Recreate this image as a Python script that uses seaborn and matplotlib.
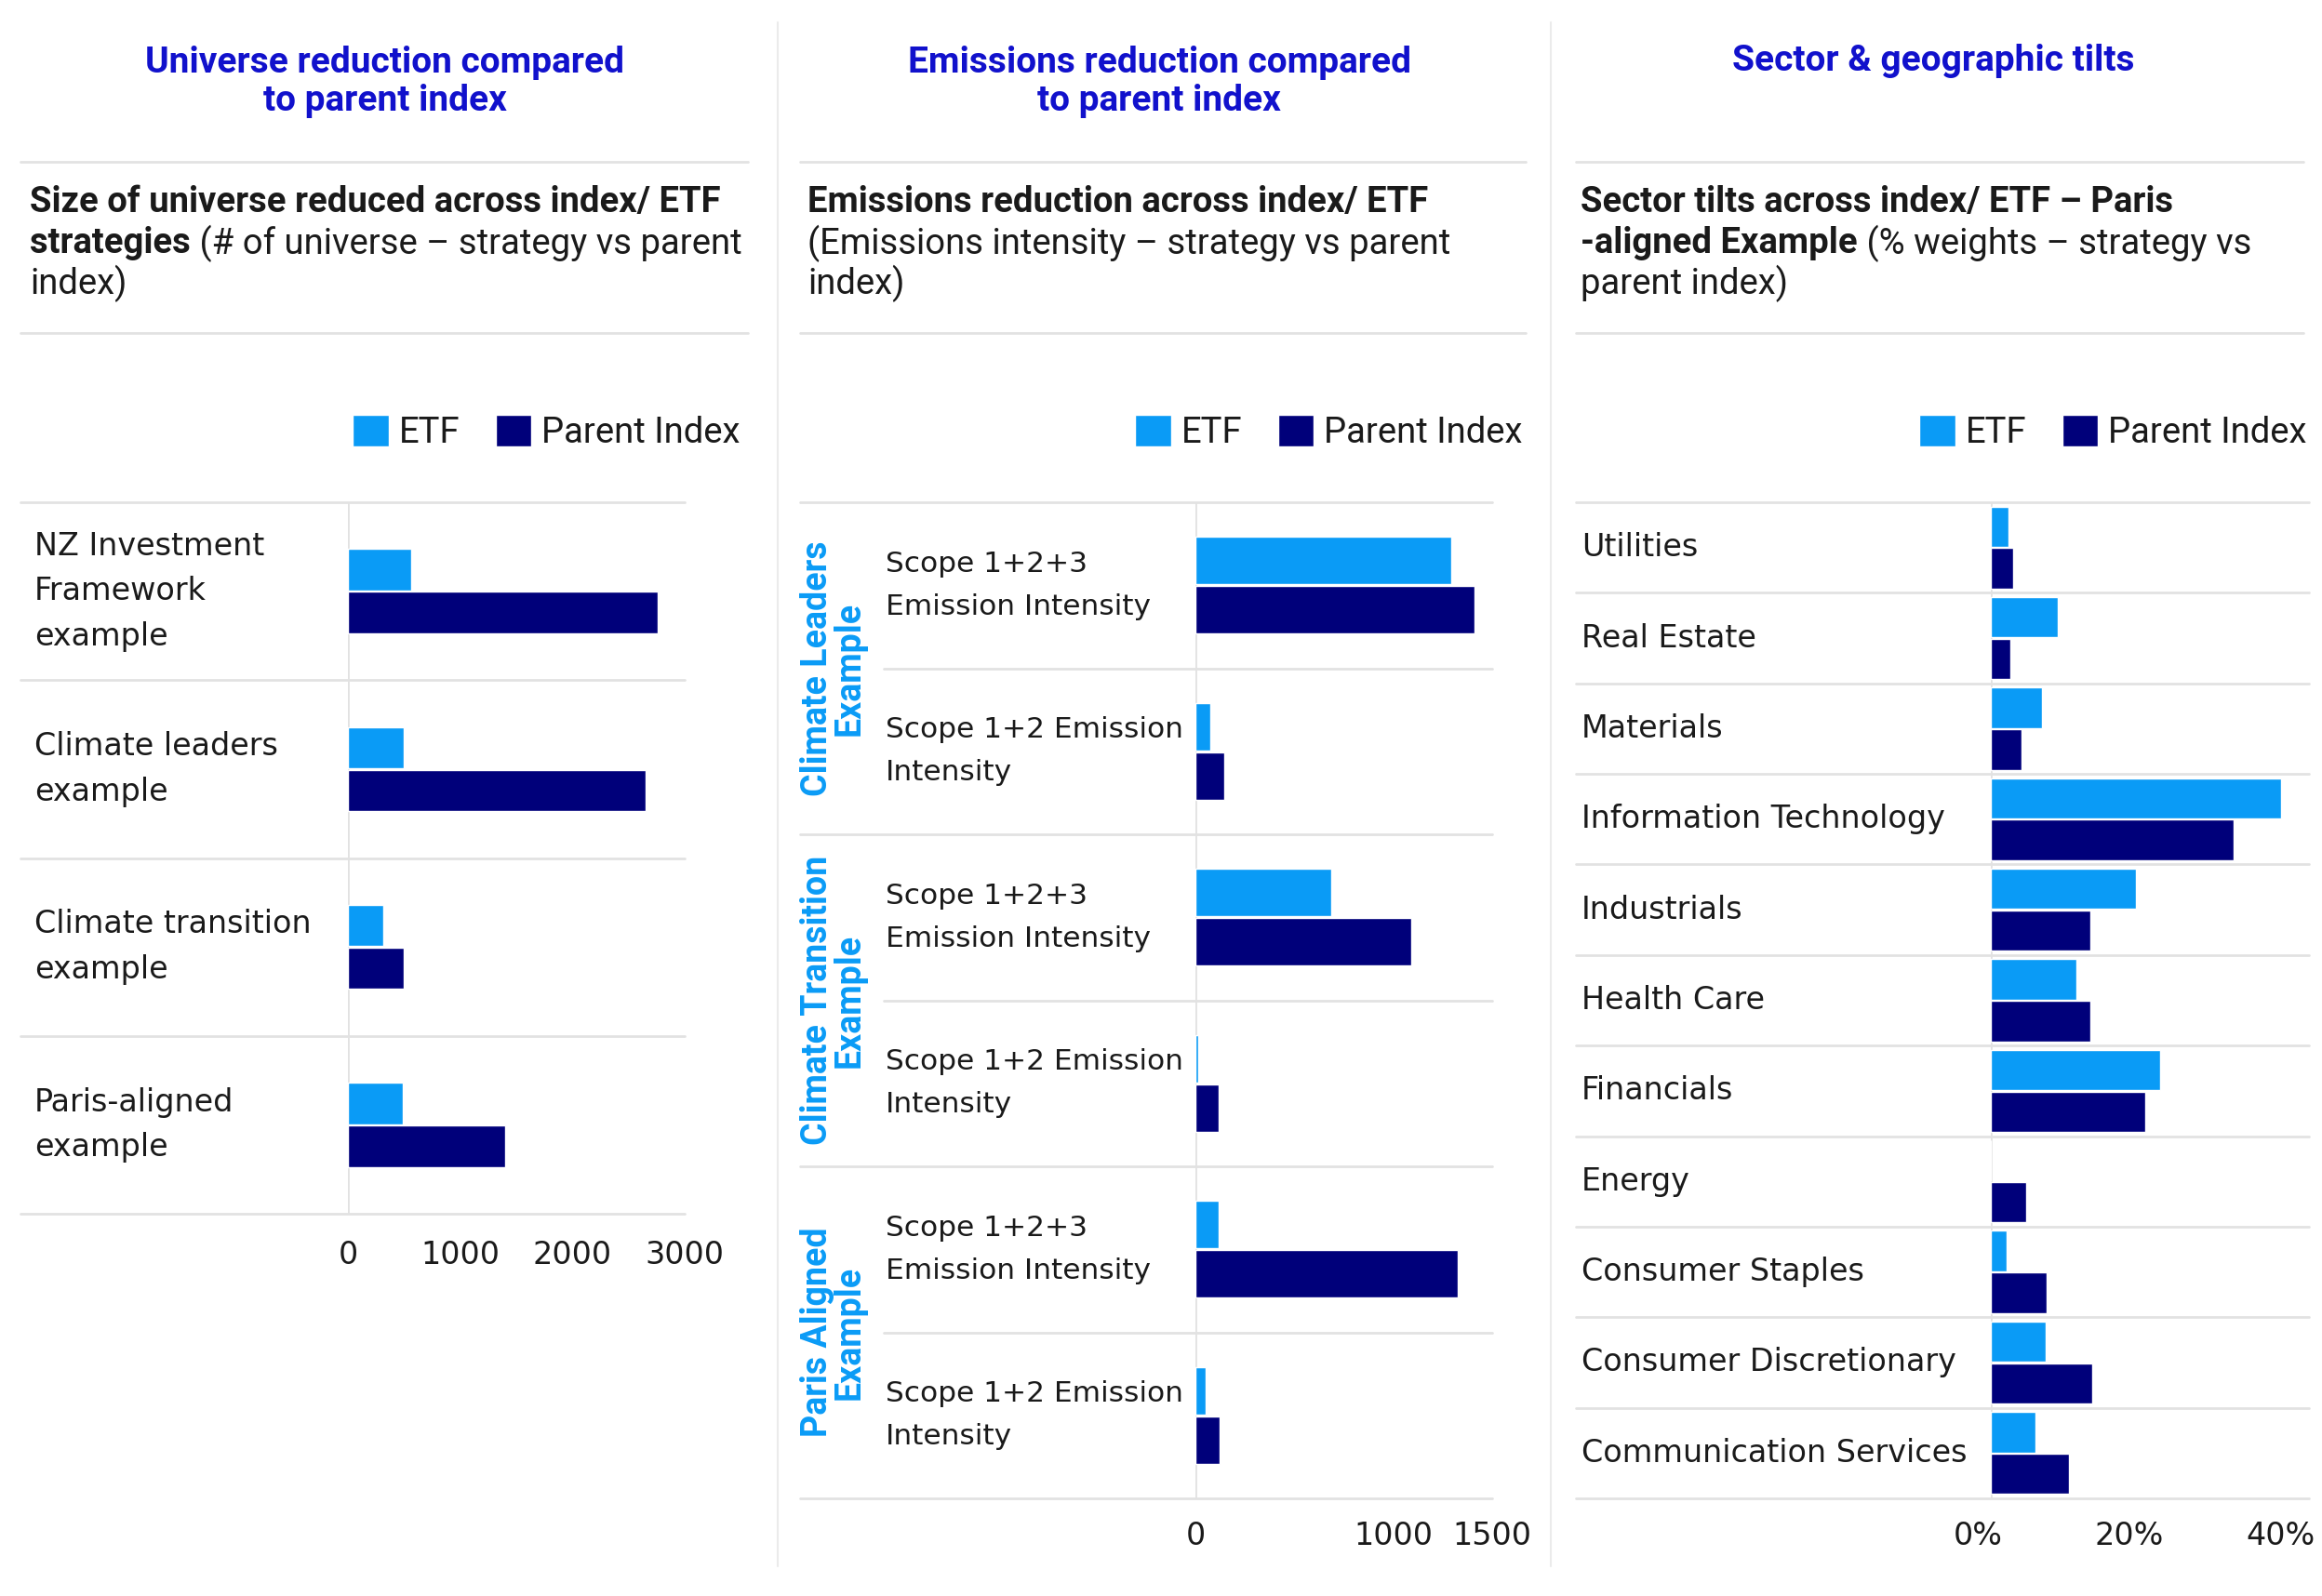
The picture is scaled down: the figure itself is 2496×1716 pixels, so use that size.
import matplotlib
matplotlib.use('Agg')
import matplotlib.pyplot as plt
import matplotlib.transforms as mtransforms
from matplotlib.lines import Line2D
import seaborn as sns
import pandas as pd

# canvas size in pixels (dpi 100)
W, H = 2496, 1716

etf_color = '#0A9BF6'
parent_color = '#00007A'
title_color = '#1111CC'
grid_color = '#E2E2E2'
text_color = '#1A1A1A'

series = ['ETF', 'Parent Index']

universe_cats = ['NZ Investment\nFramework\nexample', 'Climate leaders\nexample',
                 'Climate transition\nexample', 'Paris-aligned\nexample']
universe_etf = [562, 500, 317, 487]
universe_parent = [2763, 2652, 500, 1397]

emission_groups = ['Climate Leaders\nExample', 'Climate Transition\nExample', 'Paris Aligned\nExample']
emission_scopes = ['Scope 1+2+3\nEmission Intensity', 'Scope 1+2 Emission\nIntensity']
emission_etf = [1294, 74, 686, 13, 116, 54]
emission_parent = [1410, 144, 1091, 116, 1325, 121]

sectors = ['Utilities', 'Real Estate', 'Materials', 'Information Technology', 'Industrials',
           'Health Care', 'Financials', 'Energy', 'Consumer Staples',
           'Consumer Discretionary', 'Communication Services']
sector_etf = [2.3, 8.8, 6.8, 38.3, 19.2, 11.3, 22.3, 0.0, 2.1, 7.2, 5.9]
sector_parent = [3.0, 2.6, 4.1, 32.0, 13.2, 13.1, 20.4, 4.7, 7.4, 13.4, 10.3]

sns.set_theme(style='white')
plt.rcParams['font.family'] = ['DejaVu Sans']

fig = plt.figure(figsize=(W / 100, H / 100), dpi=100)
fig.patch.set_facecolor('white')
renderer = fig.canvas.get_renderer()


def px(x):
    return x / W


def py(y):
    return 1 - y / H


def long_df(cats, etf, parent):
    return pd.DataFrame({
        'cat': list(cats) * 2,
        'value': list(etf) + list(parent),
        'series': [series[0]] * len(cats) + [series[1]] * len(cats),
    })


def hline(x0, x1, y, color=grid_color, lw=2):
    fig.add_artist(Line2D([px(x0), px(x1)], [py(y), py(y)], color=color, lw=lw))


def rich_line(x, y, parts, size=27.5):
    for txt, weight in parts:
        t = fig.text(px(x), py(y), txt, fontsize=size, fontweight=weight, family='Roboto',
                     ha='left', va='center', color=text_color)
        x = t.get_window_extent(renderer=renderer).x1


def bar_panel(rect, df, labels, label_x, width, xlim, ticks, ticklabels, legend_right,
              label_size=24, label_spacing=1.6, tick_pad=15):
    x0, y0, x1, y1 = rect
    ax = fig.add_axes([px(x0), py(y1), (x1 - x0) / W, (y1 - y0) / H])
    sns.barplot(data=df, y='cat', x='value', hue='series', orient='h',
                palette=[etf_color, parent_color], width=width, gap=0.03,
                saturation=1, errorbar=None, ax=ax, zorder=3)
    ax.set_xlim(*xlim)
    ax.set_xticks(ticks)
    ax.set_xticklabels(ticklabels)
    ax.set_xlabel('')
    ax.set_ylabel('')
    ax.tick_params(axis='y', left=False, labelleft=False)
    ax.tick_params(axis='x', bottom=False, labelsize=24, pad=tick_pad, colors=text_color)
    for s in ax.spines.values():
        s.set_visible(False)
    ax.axvline(0, color=grid_color, lw=2, zorder=1)

    trans = mtransforms.blended_transform_factory(fig.transFigure, ax.transData)
    for i, lab in enumerate(labels):
        ax.text(px(label_x), i, lab, transform=trans, ha='left', va='center',
                fontsize=label_size, linespacing=label_spacing, color=text_color)

    sns.move_legend(ax, 'center right', bbox_to_anchor=(px(legend_right), py(465)),
                    bbox_transform=fig.transFigure, ncol=2, frameon=False, title=None,
                    prop={'family': 'Roboto', 'size': 27.5}, handlelength=1.0,
                    handleheight=1.0, handletextpad=0.3, columnspacing=1.0,
                    borderaxespad=0, borderpad=0, labelcolor=text_color)
    return ax


def sep_lines(ax, rect, left, rows):
    x0, _, x1, _ = rect
    for r in rows:
        ax.axhline(r, xmin=(left - x0) / (x1 - x0), xmax=1, color=grid_color, lw=2,
                   clip_on=False, zorder=1)


# ---- panel frames: titles, rules and subtitles
panels = [(22, 804, 414), (860, 1640, 1246), (1694, 2476, 2078)]
titles = ['Universe reduction compared\nto parent index',
          'Emissions reduction compared\nto parent index',
          'Sector & geographic tilts']
for (l, r, c), t in zip(panels, titles):
    yc = 65 if '\n' not in t else 88
    fig.text(px(c), py(yc), t, ha='center', va='center', fontsize=28, fontweight='bold',
             family='Roboto', color=title_color, linespacing=1.12)
    hline(l, r, 174)
    hline(l, r, 358)

for x in (836, 1667):
    fig.add_artist(Line2D([px(x), px(x)], [py(24), py(1684)], color='#EBEBEB', lw=1.5))

rich_line(32, 217, [('Size of universe reduced across index/ ETF', 'bold')])
rich_line(32, 262, [('strategies', 'bold'), (' (# of universe – strategy vs parent', 'normal')])
rich_line(32, 305, [('index)', 'normal')])

rich_line(868, 217, [('Emissions reduction across index/ ETF', 'bold')])
rich_line(868, 262, [('(Emissions intensity – strategy vs parent', 'normal')])
rich_line(868, 305, [('index)', 'normal')])

rich_line(1699, 217, [('Sector tilts across index/ ETF – Paris', 'bold')])
rich_line(1699, 262, [('-aligned Example', 'bold'), (' (% weights – strategy vs', 'normal')])
rich_line(1699, 305, [('parent index)', 'normal')])

# ---- panel 1: universe size
rect1 = (374, 540, 736, 1305)
ax1 = bar_panel(rect1, long_df(universe_cats, universe_etf, universe_parent), universe_cats,
                37, 0.48, (0, 3000), [0, 1000, 2000, 3000], ['0', '1000', '2000', '3000'],
                796, tick_pad=14)
sep_lines(ax1, rect1, 22, [i - 0.5 for i in range(len(universe_cats) + 1)])

# ---- panel 2: emissions
emission_keys = [g + '|' + s for g in emission_groups for s in emission_scopes]
emission_labels = [s for g in emission_groups for s in emission_scopes]
rect2 = (1285, 540, 1604, 1611)
ax2 = bar_panel(rect2, long_df(emission_keys, emission_etf, emission_parent), emission_labels,
                952, 0.59, (0, 1500), [0, 1000, 1500], ['0', '1000', '1500'],
                1637, label_size=22.5, label_spacing=1.75, tick_pad=11)
n_scope = len(emission_scopes)
sep_lines(ax2, rect2, 860, [g * n_scope - 0.5 for g in range(len(emission_groups) + 1)])
sep_lines(ax2, rect2, 950, [g * n_scope + 0.5 for g in range(len(emission_groups))])
trans2 = mtransforms.blended_transform_factory(fig.transFigure, ax2.transData)
for g, name in enumerate(emission_groups):
    ax2.text(px(896), g * n_scope + (n_scope - 1) / 2, name, transform=trans2, rotation=90,
             ha='center', va='center', multialignment='center', fontsize=27,
             fontweight='bold', family='Roboto', color=etf_color, linespacing=0.92)

# ---- panel 3: sector tilts
rect3 = (2140, 540, 2482, 1611)
ax3 = bar_panel(rect3, long_df(sectors, sector_etf, sector_parent), sectors,
                1700, 0.92, (0, 42), [0, 20, 40], ['0%', '20%', '40%'],
                2480, tick_pad=11)
sep_lines(ax3, rect3, 1694, [i - 0.5 for i in range(len(sectors) + 1)])
shift = mtransforms.ScaledTranslation(-14 / 100, 0, fig.dpi_scale_trans)
for lab in ax3.get_xticklabels():
    lab.set_transform(lab.get_transform() + shift)

fig.savefig('out.png', dpi=100, facecolor='white')
